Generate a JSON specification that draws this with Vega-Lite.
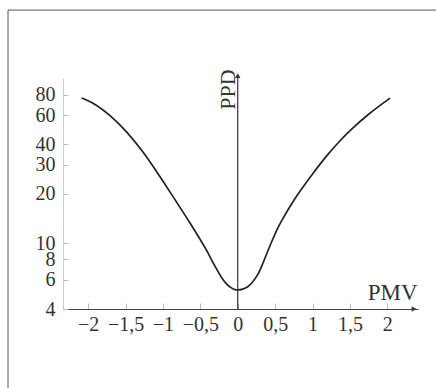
{
  "$schema": "https://vega.github.io/schema/vega-lite/v6.json",
  "width": 355,
  "height": 231,
  "autosize": {"type": "none"},
  "padding": {"left": 63, "top": 78, "right": 18, "bottom": 79},
  "background": "white",
  "config": {"view": {"stroke": null}, "font": "Liberation Serif"},
  "data": {
    "values": [
      {"PMV": -2.086, "PPD": 76.4},
      {"PMV": -1.93, "PPD": 70.8},
      {"PMV": -1.707, "PPD": 59.7},
      {"PMV": -1.484, "PPD": 47.4},
      {"PMV": -1.262, "PPD": 35.6},
      {"PMV": -1.061, "PPD": 26.3},
      {"PMV": -0.861, "PPD": 19.1},
      {"PMV": -0.638, "PPD": 13.3},
      {"PMV": -0.504, "PPD": 10.6},
      {"PMV": -0.414, "PPD": 9.04},
      {"PMV": -0.33, "PPD": 7.64},
      {"PMV": -0.263, "PPD": 6.74},
      {"PMV": -0.21, "PPD": 6.15},
      {"PMV": -0.147, "PPD": 5.67},
      {"PMV": -0.09, "PPD": 5.39},
      {"PMV": -0.036, "PPD": 5.24},
      {"PMV": 0.0, "PPD": 5.22},
      {"PMV": 0.067, "PPD": 5.28},
      {"PMV": 0.134, "PPD": 5.46},
      {"PMV": 0.201, "PPD": 5.86},
      {"PMV": 0.267, "PPD": 6.46},
      {"PMV": 0.334, "PPD": 7.53},
      {"PMV": 0.401, "PPD": 8.97},
      {"PMV": 0.468, "PPD": 10.6},
      {"PMV": 0.535, "PPD": 12.4},
      {"PMV": 0.602, "PPD": 14.1},
      {"PMV": 0.668, "PPD": 15.9},
      {"PMV": 0.735, "PPD": 17.8},
      {"PMV": 0.802, "PPD": 19.8},
      {"PMV": 1.003, "PPD": 26.5},
      {"PMV": 1.203, "PPD": 34.6},
      {"PMV": 1.337, "PPD": 40.6},
      {"PMV": 1.537, "PPD": 50.1},
      {"PMV": 1.738, "PPD": 60.2},
      {"PMV": 2.036, "PPD": 76.2}
    ]
  },
  "layer": [
    {
      "data": {"values": [{}]},
      "mark": {"type": "rect", "fill": "transparent", "stroke": "#555", "strokeWidth": 1, "clip": false},
      "encoding": {
        "x": {"datum": -3.071},
        "x2": {"datum": 4},
        "y": {"datum": 261},
        "y2": {"datum": 0.5}
      }
    },
    {
      "mark": {"type": "line", "color": "#222", "strokeWidth": 1.7, "interpolate": "monotone"},
      "encoding": {
        "x": {
          "field": "PMV",
          "type": "quantitative",
          "scale": {"domain": [-2.336, 2.41], "nice": false, "zero": false},
          "axis": {
            "title": "PMV",
            "values": [-2, -1.5, -1, -0.5, 0, 0.5, 1, 1.5, 2],
            "labelExpr": "replace(format(datum.value, '~g'), '.', ',')",
            "labelFontSize": 20,
            "labelColor": "#333",
            "labelFlush": false,
            "labelOverlap": false,
            "labelPadding": 11,
            "tickSize": -6,
            "tickColor": "#bbb",
            "domainColor": "#444",
            "grid": false,
            "titleFontSize": 23,
            "titleFontWeight": "normal",
            "titleColor": "#333",
            "titleX": 354,
            "titleY": -10,
            "titleAlign": "right",
            "titleBaseline": "alphabetic"
          }
        },
        "y": {
          "field": "PPD",
          "type": "quantitative",
          "scale": {"type": "log", "domain": [4, 101], "nice": false},
          "axis": {
            "title": "PPD",
            "values": [4, 6, 8, 10, 20, 30, 40, 60, 80],
            "labelFontSize": 20,
            "labelColor": "#333",
            "labelFlush": false,
            "labelOverlap": false,
            "labelPadding": 13,
            "tickSize": -5,
            "tickColor": "#bbb",
            "domainColor": "#ccc",
            "grid": false,
            "titleFontSize": 22,
            "titleFontWeight": "normal",
            "titleColor": "#333",
            "titleX": 171,
            "titleY": 11,
            "titleAngle": -90,
            "titleAlign": "center",
            "titleBaseline": "alphabetic"
          }
        }
      }
    },
    {
      "data": {"values": [{}]},
      "mark": {"type": "rule", "color": "#333", "strokeWidth": 1.2, "clip": false},
      "encoding": {"x": {"datum": 0}, "y": {"datum": 4}, "y2": {"datum": 105.9}}
    },
    {
      "data": {"values": [{}]},
      "mark": {"type": "point", "shape": "triangle-up", "filled": true, "color": "#333", "size": 30, "opacity": 1, "clip": false},
      "encoding": {"x": {"datum": 0}, "y": {"datum": 104.4}}
    },
    {
      "data": {"values": [{}]},
      "mark": {"type": "point", "shape": "triangle-right", "filled": true, "color": "#333", "size": 30, "opacity": 1, "clip": false},
      "encoding": {"x": {"datum": 2.357}, "y": {"datum": 4}}
    }
  ]
}
